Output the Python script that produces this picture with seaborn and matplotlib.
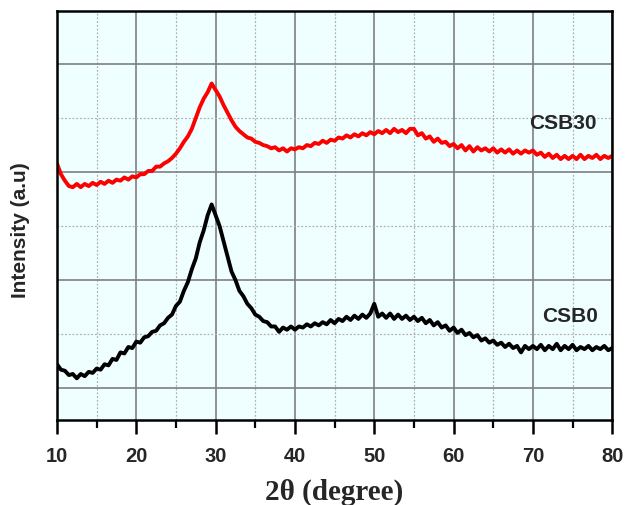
import numpy as np
import pandas as pd
import matplotlib
matplotlib.use("Agg")
import matplotlib.pyplot as plt
import seaborn as sns
from matplotlib.ticker import MultipleLocator

# 2-theta sampling grid (degrees)
two_theta = np.arange(10, 80.01, 0.5)

csb0 = [
    0.22, 0.17, 0.16, 0.12, 0.13, 0.09, 0.13, 0.11, 0.15, 0.14,
    0.18, 0.17, 0.22, 0.21, 0.27, 0.26, 0.33, 0.32, 0.38, 0.37,
    0.43, 0.42, 0.47, 0.48, 0.52, 0.53, 0.58, 0.60, 0.65, 0.68,
    0.76, 0.80, 0.90, 0.98, 1.10, 1.20, 1.35, 1.46, 1.60, 1.70,
    1.60, 1.50, 1.36, 1.22, 1.08, 1.00, 0.90, 0.85, 0.78, 0.74,
    0.68, 0.66, 0.62, 0.61, 0.57, 0.57, 0.52, 0.56, 0.54, 0.57,
    0.54, 0.57, 0.56, 0.59, 0.57, 0.60, 0.58, 0.61, 0.59, 0.63,
    0.60, 0.64, 0.62, 0.66, 0.63, 0.67, 0.64, 0.68, 0.65, 0.69,
    0.78, 0.66, 0.69, 0.65, 0.69, 0.64, 0.68, 0.64, 0.67, 0.63,
    0.66, 0.62, 0.65, 0.60, 0.63, 0.58, 0.61, 0.56, 0.58, 0.53,
    0.56, 0.51, 0.54, 0.49, 0.51, 0.47, 0.49, 0.44, 0.46, 0.42,
    0.44, 0.40, 0.42, 0.38, 0.41, 0.37, 0.39, 0.33, 0.39, 0.36,
    0.39, 0.36, 0.40, 0.35, 0.39, 0.36, 0.41, 0.35, 0.39, 0.36,
    0.40, 0.35, 0.38, 0.36, 0.39, 0.35, 0.38, 0.36, 0.39, 0.35,
    0.37,
]

csb30 = [
    2.08, 1.98, 1.92, 1.87, 1.86, 1.89, 1.86, 1.89, 1.87, 1.90,
    1.88, 1.91, 1.89, 1.92, 1.90, 1.93, 1.92, 1.95, 1.93, 1.96,
    1.95, 1.98, 1.98, 2.01, 2.01, 2.05, 2.05, 2.08, 2.10, 2.13,
    2.17, 2.22, 2.28, 2.33, 2.40, 2.50, 2.60, 2.68, 2.74, 2.82,
    2.76, 2.70, 2.62, 2.55, 2.48, 2.42, 2.38, 2.35, 2.32, 2.31,
    2.28, 2.27, 2.25, 2.24, 2.22, 2.23, 2.20, 2.22, 2.19, 2.22,
    2.21, 2.23, 2.22, 2.25, 2.24, 2.27, 2.26, 2.29, 2.27, 2.30,
    2.29, 2.32, 2.31, 2.34, 2.32, 2.35, 2.33, 2.36, 2.34, 2.37,
    2.35, 2.38, 2.36, 2.39, 2.36, 2.40, 2.37, 2.39, 2.36, 2.40,
    2.40, 2.34, 2.36, 2.31, 2.33, 2.28, 2.31, 2.27, 2.28, 2.24,
    2.26, 2.22, 2.25, 2.20, 2.24, 2.19, 2.23, 2.20, 2.22, 2.19,
    2.22, 2.18, 2.21, 2.18, 2.21, 2.17, 2.20, 2.17, 2.20, 2.18,
    2.20, 2.16, 2.18, 2.14, 2.17, 2.13, 2.16, 2.12, 2.15, 2.12,
    2.15, 2.12, 2.16, 2.12, 2.15, 2.13, 2.16, 2.12, 2.15, 2.13,
    2.15,
]

x_ticks = [10, 20, 30, 40, 50, 60, 70, 80]
series_names = ["CSB0", "CSB30"]
series_colors = {"CSB0": "black", "CSB30": "red"}

df = pd.concat([
    pd.DataFrame({"two_theta": two_theta, "intensity": csb0, "sample": "CSB0"}),
    pd.DataFrame({"two_theta": two_theta, "intensity": csb30, "sample": "CSB30"}),
])

sns.set_theme(style="white")
plt.rcParams["font.family"] = ["Liberation Sans", "DejaVu Sans"]

fig = plt.figure(figsize=(6.26, 5.06), dpi=100)
ax = fig.add_axes([0.091, 0.168, 0.887, 0.808])
ax.set_facecolor("#EFFFFF")

sns.lineplot(data=df, x="two_theta", y="intensity", hue="sample",
             palette=series_colors, linewidth=2.8, legend=False, ax=ax,
             estimator=None)

ax.set_xlim(10, 80)
ax.set_ylim(-0.296, 3.49)
ax.set_xticks(x_ticks)
ax.set_xticklabels([str(t) for t in x_ticks], fontweight="bold", fontsize=14.5)
ax.xaxis.set_minor_locator(MultipleLocator(5))
ax.yaxis.set_major_locator(MultipleLocator(1))
ax.yaxis.set_minor_locator(MultipleLocator(0.5))
ax.tick_params(axis="x", which="major", direction="out", length=10, width=1.8,
               color="black", pad=9, bottom=True)
ax.tick_params(axis="x", which="minor", direction="out", length=5.5, width=1.6,
               color="black", bottom=True)
ax.tick_params(axis="y", which="both", length=0, labelleft=False)

ax.set_axisbelow(True)
ax.grid(which="major", color="#7f7f7f", linewidth=1.2, linestyle="-")
ax.grid(which="minor", color="#b0b0b0", linewidth=0.9, linestyle=(0, (1.5, 1.5)))

for s in ax.spines.values():
    s.set_color("black")
    s.set_linewidth(1.8)
    s.set_visible(True)

ax.set_xlabel("2θ (degree)", fontsize=21, fontweight="bold",
              family=["Liberation Serif", "DejaVu Serif"], labelpad=9)
ax.set_ylabel("Intensity (a.u)", fontsize=15, fontweight="bold")
ax.yaxis.set_label_coords(-0.049, 0.467)

ax.text(73.8, 2.46, "CSB30", fontsize=15, fontweight="bold",
        ha="center", va="center")
ax.text(74.7, 0.67, "CSB0", fontsize=15, fontweight="bold",
        ha="center", va="center")

fig.savefig("out.png", dpi=100)
